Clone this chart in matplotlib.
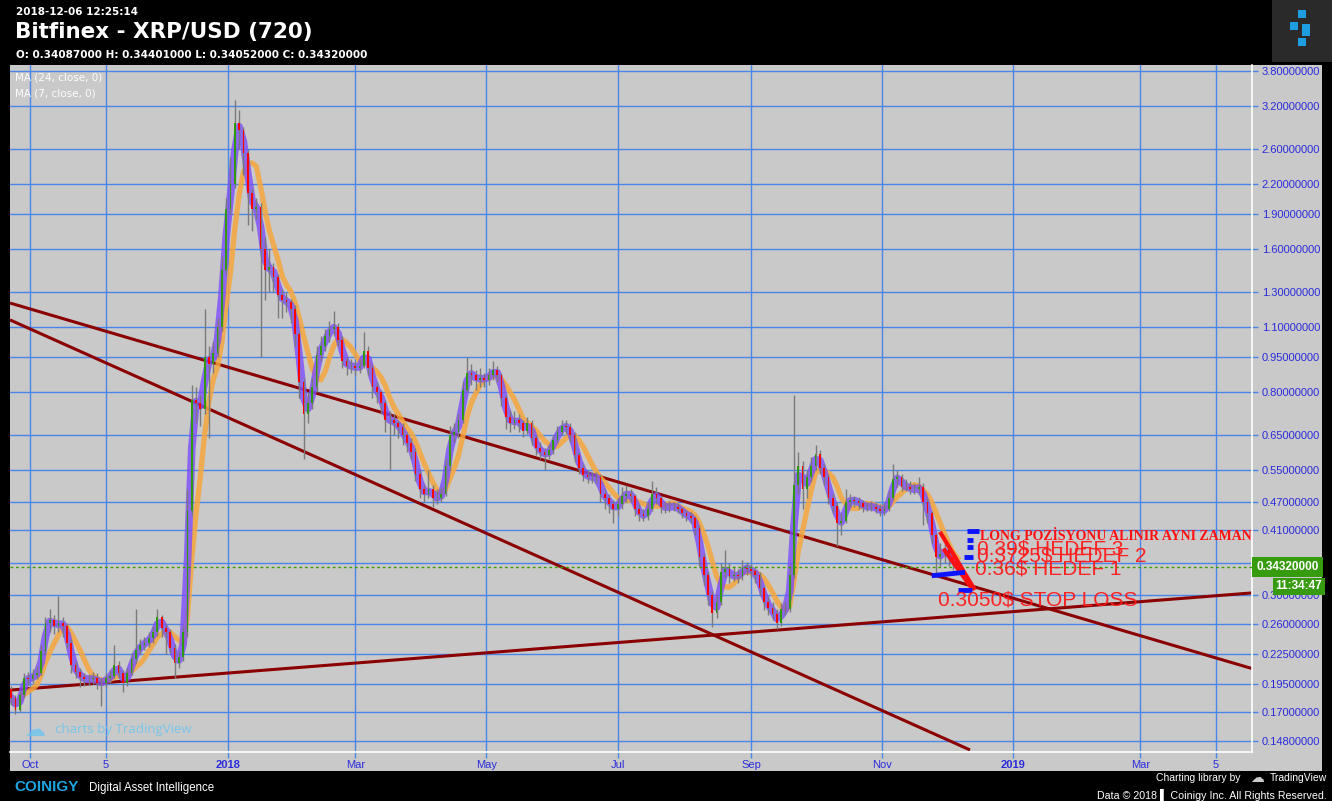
import numpy as np
import pandas as pd
import matplotlib
matplotlib.use("Agg")
import matplotlib.pyplot as plt
import matplotlib.dates as mdates
from matplotlib.patches import Rectangle

# ---- data (2-day candles) ----
start_date = "2017-09-22"
closes = [
    0.182, 0.172, 0.185, 0.200, 0.199, 0.203, 0.205, 0.228, 0.262, 0.265,
    0.258, 0.262, 0.258, 0.238, 0.213, 0.206, 0.201, 0.199, 0.199, 0.200,
    0.196, 0.196, 0.200, 0.202, 0.213, 0.205, 0.196, 0.205, 0.220, 0.229,
    0.235, 0.238, 0.243, 0.250, 0.270, 0.255, 0.250, 0.232, 0.215, 0.222,
    0.250, 0.450, 0.770, 0.760, 0.740, 0.950, 0.920, 0.970, 1.100, 1.450,
    1.950, 2.200, 2.950, 2.850, 2.550, 2.100, 1.950, 1.970, 1.600, 1.450,
    1.470, 1.400, 1.280, 1.250, 1.240, 1.200, 1.060, 0.840, 0.720, 0.760,
    0.820, 0.960, 1.000, 1.050, 1.090, 1.100, 1.030, 0.930, 0.910, 0.910,
    0.900, 0.910, 0.980, 0.900, 0.820, 0.800, 0.760, 0.700, 0.700, 0.690,
    0.675, 0.650, 0.625, 0.600, 0.540, 0.500, 0.490, 0.500, 0.480, 0.480,
    0.490, 0.560, 0.650, 0.660, 0.700, 0.810, 0.880, 0.870, 0.850, 0.860,
    0.850, 0.870, 0.890, 0.870, 0.780, 0.710, 0.690, 0.700, 0.690, 0.665,
    0.690, 0.640, 0.610, 0.600, 0.590, 0.605, 0.635, 0.660, 0.680, 0.675,
    0.650, 0.590, 0.555, 0.537, 0.532, 0.530, 0.530, 0.490, 0.480, 0.465,
    0.455, 0.465, 0.485, 0.490, 0.485, 0.455, 0.443, 0.440, 0.455, 0.490,
    0.480, 0.460, 0.458, 0.460, 0.460, 0.455, 0.445, 0.440, 0.435, 0.415,
    0.360, 0.330, 0.300, 0.275, 0.290, 0.335, 0.340, 0.328, 0.330, 0.328,
    0.342, 0.340, 0.336, 0.330, 0.310, 0.290, 0.282, 0.273, 0.262, 0.280,
    0.280, 0.330, 0.510, 0.560, 0.500, 0.530, 0.560, 0.595, 0.555, 0.530,
    0.480, 0.462, 0.424, 0.430, 0.470, 0.475, 0.472, 0.468, 0.460, 0.460,
    0.460, 0.455, 0.450, 0.455, 0.480, 0.525, 0.530, 0.507, 0.507, 0.500,
    0.500, 0.507, 0.470, 0.445, 0.400, 0.360, 0.365, 0.373, 0.360, 0.350,
    0.3432,
]
highs = [
    0.193, 0.185, 0.188, 0.205, 0.206, 0.209, 0.212, 0.235, 0.270, 0.280,
    0.272, 0.298, 0.270, 0.262, 0.242, 0.218, 0.210, 0.205, 0.204, 0.206,
    0.205, 0.200, 0.205, 0.208, 0.235, 0.218, 0.208, 0.210, 0.226, 0.280,
    0.242, 0.245, 0.250, 0.258, 0.280, 0.272, 0.260, 0.254, 0.236, 0.228,
    0.258, 0.500, 0.830, 0.820, 0.790, 1.200, 1.000, 1.020, 1.150, 1.550,
    2.050, 2.500, 3.300, 3.150, 2.900, 2.600, 2.150, 2.050, 2.000, 1.700,
    1.600, 1.500, 1.420, 1.320, 1.300, 1.260, 1.220, 1.080, 0.860, 0.800,
    0.860, 1.000, 1.050, 1.090, 1.130, 1.190, 1.120, 1.050, 0.950, 0.940,
    0.930, 0.940, 1.070, 1.000, 0.910, 0.840, 0.810, 0.770, 0.730, 0.720,
    0.700, 0.690, 0.660, 0.640, 0.610, 0.550, 0.510, 0.550, 0.510, 0.500,
    0.505, 0.580, 0.680, 0.690, 0.720, 0.840, 0.950, 0.920, 0.890, 0.900,
    0.880, 0.900, 0.930, 0.910, 0.880, 0.790, 0.730, 0.730, 0.720, 0.700,
    0.710, 0.700, 0.650, 0.630, 0.610, 0.620, 0.650, 0.680, 0.700, 0.700,
    0.690, 0.660, 0.600, 0.565, 0.550, 0.545, 0.545, 0.540, 0.500, 0.490,
    0.475, 0.480, 0.505, 0.510, 0.500, 0.490, 0.465, 0.455, 0.470, 0.520,
    0.505, 0.485, 0.470, 0.472, 0.470, 0.468, 0.460, 0.452, 0.448, 0.440,
    0.420, 0.365, 0.335, 0.305, 0.300, 0.350, 0.372, 0.350, 0.345, 0.340,
    0.355, 0.352, 0.348, 0.342, 0.335, 0.315, 0.298, 0.290, 0.280, 0.288,
    0.290, 0.345, 0.790, 0.600, 0.575, 0.550, 0.585, 0.620, 0.605, 0.565,
    0.540, 0.490, 0.470, 0.445, 0.500, 0.490, 0.485, 0.482, 0.475, 0.470,
    0.472, 0.468, 0.465, 0.468, 0.495, 0.565, 0.550, 0.540, 0.525, 0.520,
    0.515, 0.530, 0.515, 0.480, 0.450, 0.405, 0.385, 0.385, 0.380, 0.365,
    0.355,
]
lows = [
    0.176, 0.168, 0.170, 0.183, 0.194, 0.196, 0.199, 0.203, 0.225, 0.250,
    0.248, 0.250, 0.245, 0.232, 0.205, 0.200, 0.192, 0.193, 0.194, 0.195,
    0.190, 0.175, 0.192, 0.196, 0.200, 0.200, 0.187, 0.193, 0.203, 0.216,
    0.225, 0.230, 0.233, 0.238, 0.246, 0.245, 0.225, 0.226, 0.200, 0.210,
    0.218, 0.245, 0.440, 0.690, 0.680, 0.720, 0.640, 0.880, 0.950, 1.080,
    1.420, 1.900, 2.150, 2.600, 2.300, 1.800, 1.750, 1.850, 0.950, 1.250,
    1.300, 1.300, 1.150, 1.150, 1.180, 1.120, 1.000, 0.780, 0.580, 0.690,
    0.740, 0.800, 0.930, 0.980, 1.020, 1.050, 1.000, 0.900, 0.870, 0.880,
    0.870, 0.880, 0.900, 0.870, 0.780, 0.760, 0.720, 0.660, 0.550, 0.650,
    0.640, 0.620, 0.600, 0.580, 0.520, 0.480, 0.470, 0.480, 0.460, 0.465,
    0.470, 0.485, 0.550, 0.630, 0.640, 0.690, 0.800, 0.830, 0.810, 0.820,
    0.820, 0.830, 0.850, 0.840, 0.750, 0.670, 0.660, 0.670, 0.660, 0.645,
    0.655, 0.620, 0.590, 0.580, 0.550, 0.580, 0.595, 0.625, 0.650, 0.655,
    0.630, 0.570, 0.540, 0.520, 0.515, 0.515, 0.515, 0.470, 0.455, 0.445,
    0.425, 0.440, 0.455, 0.470, 0.470, 0.440, 0.430, 0.428, 0.432, 0.450,
    0.465, 0.445, 0.445, 0.448, 0.450, 0.445, 0.435, 0.430, 0.425, 0.400,
    0.345, 0.315, 0.285, 0.256, 0.268, 0.285, 0.325, 0.318, 0.320, 0.318,
    0.322, 0.330, 0.326, 0.318, 0.298, 0.278, 0.272, 0.265, 0.254, 0.258,
    0.272, 0.276, 0.325, 0.490, 0.455, 0.480, 0.520, 0.550, 0.540, 0.510,
    0.465, 0.445, 0.380, 0.400, 0.425, 0.460, 0.460, 0.455, 0.448, 0.450,
    0.450, 0.445, 0.440, 0.442, 0.450, 0.475, 0.505, 0.495, 0.495, 0.488,
    0.488, 0.490, 0.420, 0.425, 0.385, 0.333, 0.345, 0.350, 0.345, 0.338,
    0.336,
]
first_open = 0.190
last_close = 0.3432

price_ticks = [3.8, 3.2, 2.6, 2.2, 1.9, 1.6, 1.3, 1.1, 0.95, 0.8, 0.65,
               0.55, 0.47, 0.41, 0.35, 0.30, 0.26, 0.225, 0.195, 0.17, 0.148]
time_ticks = ["2017-10-01", "2017-11-05", "2018-01-01", "2018-03-01",
              "2018-05-01", "2018-07-01", "2018-09-01", "2018-11-01",
              "2019-01-01", "2019-03-01", "2019-04-05"]
time_labels = ["Oct", "5", "2018", "Mar", "May", "Jul", "Sep", "Nov",
               "2019", "Mar", "5"]

# hand drawn trend lines: (date0, price0, date1, price1)
trendlines = [
    ("2017-09-21 12:00", 1.234, "2019-04-21 22:00", 0.2098),
    ("2017-09-21 12:00", 1.137, "2018-12-11 20:00", 0.1414),
    ("2017-09-21 12:00", 0.189, "2019-04-21 22:00", 0.3027),
]
# red arrow strokes and blue level markers near the end
red_strokes = [
    ("2018-11-27 20:00", 0.407, "2018-12-14 02:00", 0.307),
    ("2018-11-29 12:00", 0.375, "2018-12-13 00:00", 0.308),
]
blue_marks = [
    ("2018-12-10 06:00", 0.409, "2018-12-16 00:00", 0.409),
    ("2018-12-10 06:00", 0.391, "2018-12-13 06:00", 0.391),
    ("2018-12-10 06:00", 0.378, "2018-12-13 06:00", 0.378),
    ("2018-12-09 06:00", 0.361, "2018-12-13 06:00", 0.361),
    ("2018-11-24 00:00", 0.329, "2018-12-09 12:00", 0.3346),
    ("2018-12-06 06:00", 0.307, "2018-12-12 18:00", 0.307),
]
target_texts = ["0.39$ HEDEF 3", "0.3725$ HEDEF 2", "0.36$ HEDEF 1",
                "0.3050$ STOP LOSS"]
target_dates = ["2018-12-15 00:00", "2018-12-15 00:00", "2018-12-14 02:00",
                "2018-11-26 20:00"]
target_prices = [0.3746, 0.3625, 0.340, 0.2925]
note_text = "LONG POZİSYONU ALINIR AYNI ZAMANDA"
note_date = "2018-12-16 10:00"
note_price = 0.397

BG = "#c9c9c9"
GRID = "#4a86e8"
AXIS_TXT = "#2b2bdc"
W, H = 1332, 801


def fx(px):
    return px / W


def fy(py):
    return 1 - py / H


dates = pd.date_range(start_date, periods=len(closes), freq="2D")
x = mdates.date2num(dates)
c = np.array(closes)
o = np.concatenate([[first_open], c[:-1]])
hi = np.array(highs)
lo = np.array(lows)
ma7 = pd.Series(c).rolling(2, min_periods=1).mean()
ma24 = pd.Series(c).rolling(6, min_periods=1).mean()

fig = plt.figure(figsize=(W / 100, H / 100), dpi=100, facecolor="black")
fig.patches.append(Rectangle((fx(10), fy(771)), fx(1312), (771 - 65) / H,
                             transform=fig.transFigure, facecolor=BG,
                             edgecolor="none", zorder=-5))

ax = fig.add_axes([fx(10), fy(752), fx(1242), (752 - 65) / H])
ax.set_zorder(2)
ax.set_facecolor(BG)
ax.set_yscale("log")
ax.set_ylim(0.1400, 3.912)
ax.set_xlim(mdates.date2num(pd.Timestamp("2017-09-21 12:00")),
            mdates.date2num(pd.Timestamp("2019-04-21 22:00")))

# grid and axes
ax.set_yticks(price_ticks)
ax.yaxis.set_minor_locator(matplotlib.ticker.NullLocator())
ax.set_yticklabels([f"{p:.8f}" for p in price_ticks])
tick_x = mdates.date2num(pd.to_datetime(time_ticks))
ax.set_xticks(tick_x)
ax.set_xticklabels(time_labels)
for lab in ax.get_xticklabels():
    if lab.get_text() in ("2018", "2019"):
        lab.set_fontweight("bold")
ax.grid(True, color=GRID, lw=1.0, zorder=0)
ax.set_axisbelow(True)
ax.yaxis.tick_right()
ax.tick_params(axis="both", colors=GRID, length=4, width=1,
               labelcolor=AXIS_TXT, labelsize=8)
for lab in ax.get_yticklabels() + ax.get_xticklabels():
    lab.set_fontfamily("Liberation Sans")
ax.tick_params(axis="y", pad=3)
ax.tick_params(axis="x", pad=2)
for s in ("top", "left"):
    ax.spines[s].set_visible(False)
for s in ("right", "bottom"):
    ax.spines[s].set_color("white")
    ax.spines[s].set_linewidth(1.2)

# trend lines
for d0, p0, d1, p1 in trendlines:
    ax.plot(mdates.date2num(pd.to_datetime([d0, d1])), [p0, p1],
            color="#8b0000", lw=2.2, zorder=2, solid_capstyle="butt")

# moving averages
ax.plot(x, ma24, color="#f5a63c", lw=3.8, alpha=0.85, zorder=3)
ax.plot(x, ma7, color="#7d4dfa", lw=5.5, alpha=0.8, zorder=3)

# candles
up = c >= o
ax.vlines(x, lo, hi, color="#7a7a7a", lw=1.0, zorder=4)
ax.bar(x[up], (c - o)[up], bottom=o[up], width=0.8, color="#2f9a10",
       edgecolor="none", zorder=5)
ax.bar(x[~up], (o - c)[~up], bottom=c[~up], width=0.8, color="#ff0000",
       edgecolor="none", zorder=5)

# last price line
ax.axhline(last_close, color="#3a9f00", lw=1.0, ls=(0, (2, 2)), zorder=6)

# drawings near the end
for d0, p0, d1, p1 in red_strokes:
    ax.plot(mdates.date2num(pd.to_datetime([d0, d1])), [p0, p1],
            color="#ff1010", lw=3.0, zorder=7, solid_capstyle="butt")
for d0, p0, d1, p1 in blue_marks:
    ax.plot(mdates.date2num(pd.to_datetime([d0, d1])), [p0, p1],
            color="#0a14ff", lw=3.5, zorder=7, solid_capstyle="butt")
for t, d, p in zip(target_texts, target_dates, target_prices):
    ax.text(mdates.date2num(pd.Timestamp(d)), p, t, color="#ff1a1a",
            fontsize=15, family="Liberation Sans", va="center", ha="left",
            zorder=8, alpha=0.95)
ax.text(mdates.date2num(pd.Timestamp(note_date)), note_price, note_text,
        color="#ff1010", fontsize=10, family="Liberation Serif",
        fontweight="bold", va="center", ha="left", zorder=8, clip_on=True)

# price label on axis
ax.annotate(f"{last_close:.8f}", xy=(1.0, last_close),
            xycoords=("axes fraction", "data"), xytext=(3, 0),
            textcoords="offset points", va="center", ha="left",
            color="white", fontsize=8.5, fontweight="bold",
            family="Liberation Sans", zorder=10, annotation_clip=False,
            bbox=dict(boxstyle="square,pad=0.35", fc="#379b0f", ec="none"))
ax.annotate("11:34:47", xy=(1.0, last_close),
            xycoords=("axes fraction", "data"), xytext=(17, -14),
            textcoords="offset points", va="center", ha="left",
            color="white", fontsize=8.5, fontweight="bold",
            family="Liberation Sans", zorder=10, annotation_clip=False,
            bbox=dict(boxstyle="square,pad=0.25", fc="#379b0f", ec="none"))

# legend labels and watermark
ax.text(fx(15), fy(78), "MA (24, close, 0)", transform=fig.transFigure,
        color="white", alpha=0.95, fontsize=7.5, va="center")
ax.text(fx(15), fy(93), "MA (7, close, 0)", transform=fig.transFigure,
        color="white", alpha=0.95, fontsize=7.5, va="center")
ax.text(fx(25), fy(730), "\u2601", transform=fig.transFigure,
        color="#6cc4ee", alpha=0.8, fontsize=15, va="center")
ax.text(fx(55), fy(730), "charts by TradingView", transform=fig.transFigure,
        color="#6cc4ee", alpha=0.85, fontsize=9.5, va="center",
        family="Open Sans")

# header
fig.text(fx(16), fy(12), "2018-12-06 12:25:14", color="white", fontsize=7.5,
         fontweight="bold", va="center")
fig.text(fx(15), fy(32), "Bitfinex - XRP/USD (720)", color="white",
         fontsize=15.5, fontweight="bold", va="center")
fig.text(fx(16), fy(55),
         "O: 0.34087000 H: 0.34401000 L: 0.34052000 C: 0.34320000",
         color="white", fontsize=7.5, fontweight="bold", va="center")
fig.patches.append(Rectangle((fx(1272), fy(62)), fx(60), 62 / H,
                             transform=fig.transFigure, facecolor="#2a2a2a",
                             edgecolor="none"))
for (sx, sy, sw, sh) in [(1298, 10, 8, 8), (1290, 22, 8, 8),
                         (1302, 24, 8, 12), (1298, 38, 8, 8)]:
    fig.patches.append(Rectangle((fx(sx), fy(sy + sh)), fx(sw), sh / H,
                                 transform=fig.transFigure,
                                 facecolor="#1e9ee0", edgecolor="none"))

# footer
fig.text(fx(14), fy(787), "COINIGY", color="#1ea5e0", fontsize=11,
         fontweight="bold", va="center", family="Liberation Sans")
fig.text(fx(89), fy(788), "Digital Asset Intelligence", color="white",
         fontsize=8.3, va="center", family="Liberation Sans")
fig.text(fx(1240), fy(778), "Charting library by", color="white",
         fontsize=7.5, va="center", ha="right", family="Liberation Sans")
fig.text(fx(1250), fy(778), "\u2601", color="#cccccc", fontsize=10,
         va="center", ha="left")
fig.text(fx(1327), fy(778), "TradingView", color="white", fontsize=7.5,
         va="center", ha="right", family="Liberation Sans")
fig.text(fx(1327), fy(795),
         "Data \u00a9 2018 \u258c Coinigy Inc. All Rights Reserved.",
         color="white", fontsize=7.7, va="center", ha="right",
         family="Liberation Sans")

fig.savefig("out.png", dpi=100, facecolor="black")
